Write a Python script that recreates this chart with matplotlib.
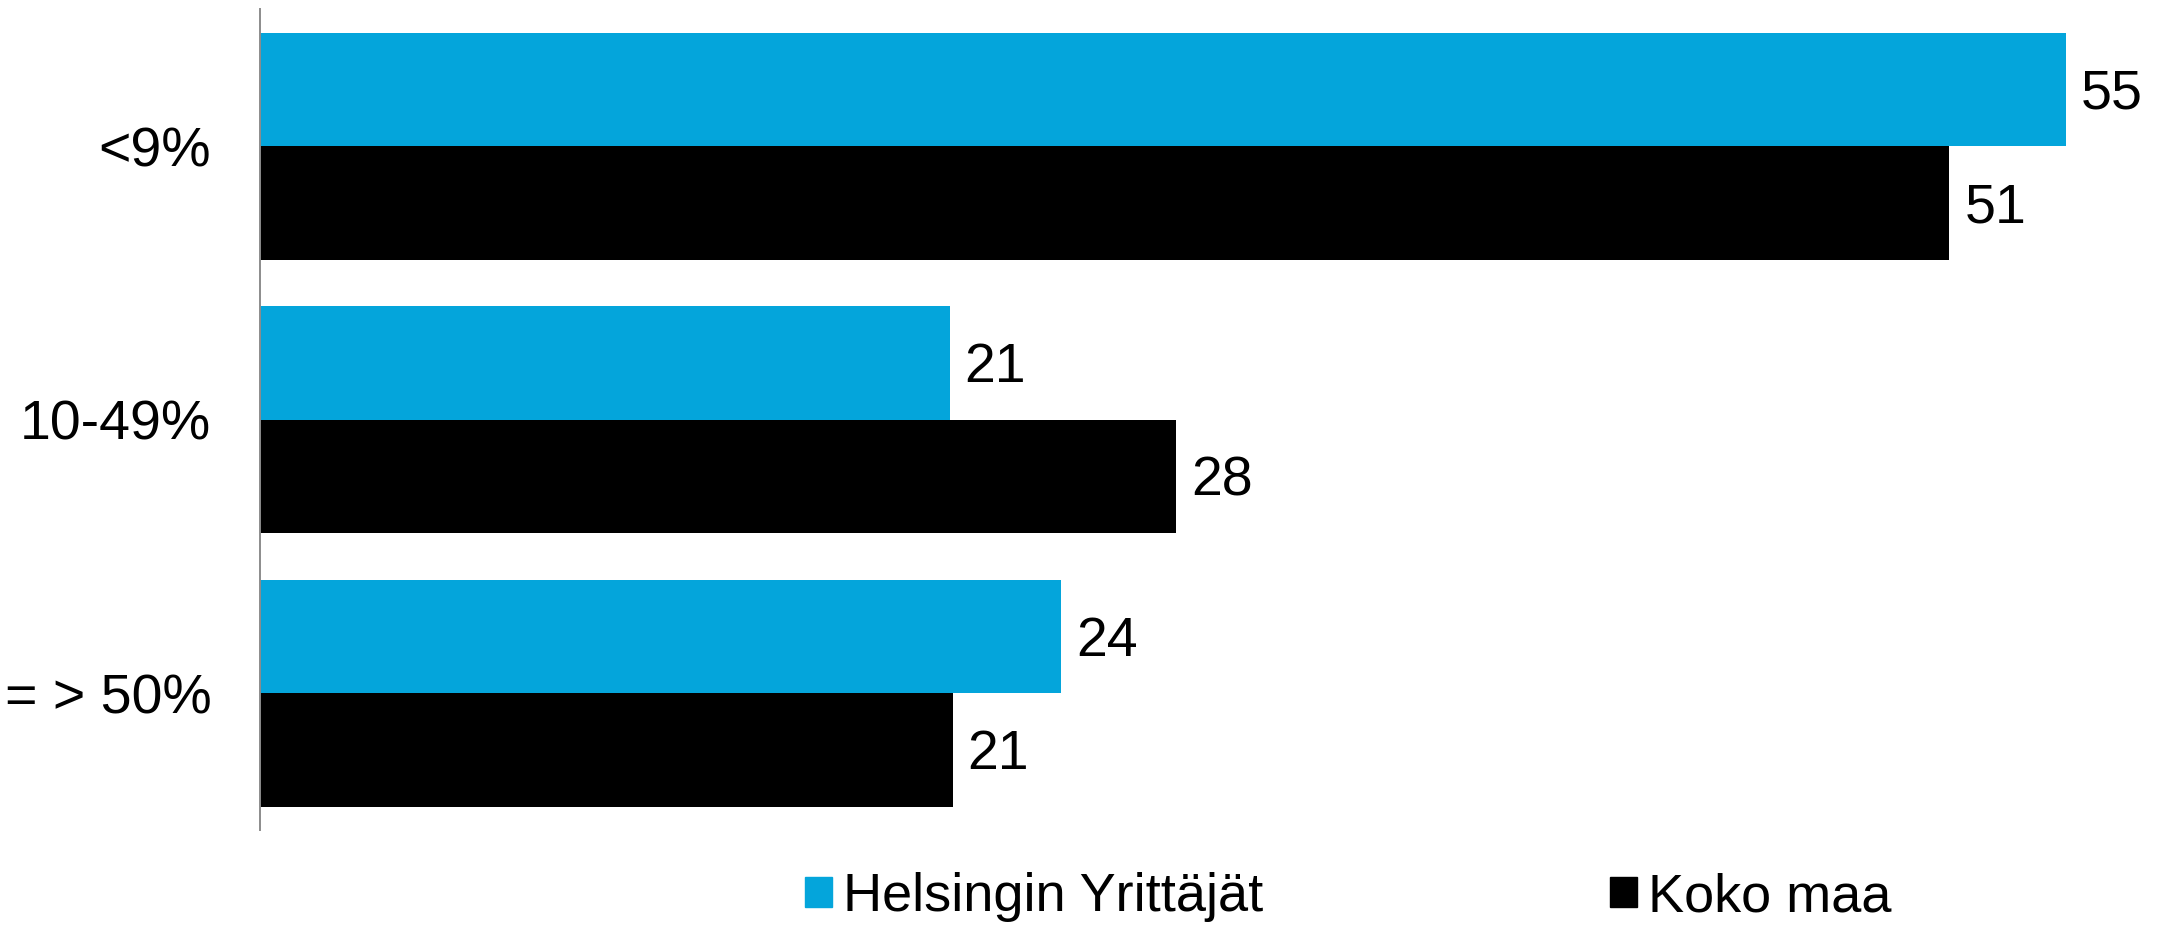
import matplotlib.pyplot as plt
import matplotlib.patches as patches
import numpy as np

categories = ["<9%", "10-49%", "= > 50%"]
helsinki = [55, 21, 24.4]
koko_maa = [51.45, 27.9, 21.1]
series_names = ["Helsingin Yrittäjät", "Koko maa"]
colours = ["#04A5DB", "#000000"]

plt.rcParams['font.family'] = ['Liberation Sans', 'DejaVu Sans']

fig = plt.figure(figsize=(21.57, 9.25), dpi=100)
ax = fig.add_axes([0.1205, 0.1027, 0.8754, 0.8873])

y = np.arange(len(categories))
h = 0.415

bars1 = ax.barh(y - h / 2, helsinki, height=h, color=colours[0])
bars2 = ax.barh(y + h / 2, koko_maa, height=h, color=colours[1])

for bars, vals in ((bars1, helsinki), (bars2, koko_maa)):
    for b, v in zip(bars, vals):
        ax.text(b.get_width() + 0.45, b.get_y() + b.get_height() / 2 + 0.02,
                "{:.0f}".format(v), va='center', ha='left', fontsize=40)

ax.set_xlim(0, 57.5)
ax.set_ylim(2.5, -0.5)
ax.set_yticks(y)
ax.set_yticklabels(categories, fontsize=40)
ax.tick_params(axis='y', length=0, pad=35)
ax.set_xticks([])

for s in ('top', 'right', 'bottom'):
    ax.spines[s].set_visible(False)
ax.spines['left'].set_color('#8c8c8c')
ax.spines['left'].set_linewidth(1.4)

handles = [patches.Patch(color=c, label=n) for c, n in zip(colours, series_names)]
fig.legend(handles=handles, loc='center left', bbox_to_anchor=(805 / 2157, 0.03),
           ncol=2, frameon=False, fontsize=39, borderpad=0, borderaxespad=0,
           handlelength=0.5, handleheight=0.5, handletextpad=0.2, columnspacing=6.4)

fig.savefig("out.png", dpi=100)
